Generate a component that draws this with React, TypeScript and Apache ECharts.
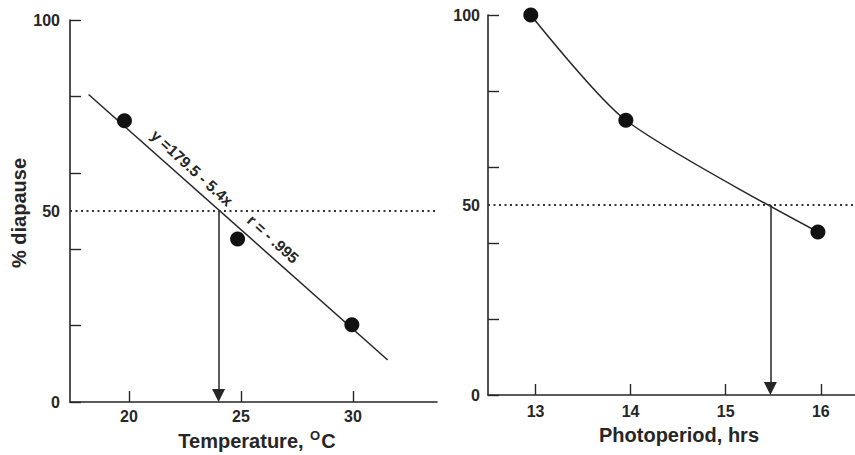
import React, { useEffect, useRef } from "react";
import * as echarts from "echarts";

// Temperature panel data
const tempC = [19.8, 24.85, 29.95];
const tempDiapause = [73.6, 42.7, 20.2];
const regressionX = [18.2, 31.55];
const regressionY = [80.5, 11.0];
const tempCritical = 24.0;
const tempTicks = [20, 25, 30];

// Photoperiod panel data
const photoHrs = [12.95, 13.95, 15.97];
const photoDiapause = [100, 72.3, 42.9];
const photoCritical = 15.47;
const photoTicks = [13, 14, 15, 16];

// Shared y-axis
const yLabelValues = [0, 50, 100];
const yTickValues = [0, 20, 40, 60, 80, 100];
const midLevel = 50;

const equationText = "y =179.5 - 5.4x";
const rText = "r = - .995";

const FONT = '"Liberation Sans", Arial, Helvetica, sans-serif';
const INK = "#262626";

function xAxisCfg(gridIndex: number, min: number, max: number, ticks: number[], margin: number) {
  return {
    type: "value",
    gridIndex,
    min,
    max,
    axisLine: { show: true, lineStyle: { color: INK, width: 1.6 } },
    axisTick: { show: true, inside: true, length: 11, customValues: ticks, lineStyle: { color: INK, width: 1.4 } },
    axisLabel: { customValues: ticks, margin, color: INK, fontSize: 16, fontWeight: "bold", fontFamily: FONT },
    splitLine: { show: false },
  };
}

function yAxisCfg(gridIndex: number, margin: number) {
  return {
    type: "value",
    gridIndex,
    min: 0,
    max: 100,
    axisLine: { show: true, lineStyle: { color: INK, width: 1.6 } },
    axisTick: { show: true, inside: true, length: 11, customValues: yTickValues, lineStyle: { color: INK, width: 1.4 } },
    axisLabel: { customValues: yLabelValues, margin, color: INK, fontSize: 16, fontWeight: "bold", fontFamily: FONT },
    splitLine: { show: false },
  };
}

function guideLines(crit: number) {
  return {
    silent: true,
    symbol: ["none", "none"],
    label: { show: false },
    emphasis: { disabled: true },
    data: [
      { yAxis: midLevel, lineStyle: { type: [2, 3.5], color: "#333", width: 2 } },
      [
        { coord: [crit, midLevel], symbol: "none", lineStyle: { type: "solid", color: INK, width: 1.5 } },
        { coord: [crit, 1.7], symbol: "triangle", symbolSize: [13, 13] },
      ],
    ],
  };
}

export default function App() {
  const ref = useRef<HTMLDivElement>(null);

  useEffect(() => {
    if (!ref.current) return;
    const chart = echarts.init(ref.current, null, { renderer: "svg" });
    const lineAngle = -0.74;
    chart.setOption({
      animation: false,
      backgroundColor: "#ffffff",
      grid: [
        { left: 70, top: 20, width: 367, height: 382 },
        { left: 488, top: 15, width: 367, height: 380 },
      ],
      xAxis: [
        xAxisCfg(0, 17.37, 33.75, tempTicks, 6),
        xAxisCfg(1, 12.5, 16.36, photoTicks, 8),
      ],
      yAxis: [yAxisCfg(0, 10), yAxisCfg(1, 8)],
      series: [
        {
          type: "line",
          xAxisIndex: 0,
          yAxisIndex: 0,
          data: regressionX.map((x, i) => [x, regressionY[i]]),
          showSymbol: false,
          silent: true,
          lineStyle: { color: INK, width: 1.5 },
        },
        {
          type: "scatter",
          xAxisIndex: 0,
          yAxisIndex: 0,
          data: tempC.map((x, i) => [x, tempDiapause[i]]),
          symbol: "circle",
          symbolSize: 15,
          itemStyle: { color: "#111", opacity: 1 },
          silent: true,
          z: 3,
          markLine: guideLines(tempCritical),
        },
        {
          type: "line",
          xAxisIndex: 1,
          yAxisIndex: 1,
          data: photoHrs.map((x, i) => [x, photoDiapause[i]]),
          smooth: 0.25,
          symbol: "circle",
          symbolSize: 15,
          showSymbol: true,
          itemStyle: { color: "#111", opacity: 1 },
          lineStyle: { color: INK, width: 1.5 },
          silent: true,
          z: 3,
          markLine: guideLines(photoCritical),
        },
      ],
      graphic: [
        {
          type: "text",
          x: 19,
          y: 213,
          rotation: Math.PI / 2,
          style: {
            text: "% diapause",
            fill: INK,
            font: `bold 20px ${FONT}`,
            align: "center",
            verticalAlign: "middle",
          },
        },
        {
          type: "text",
          x: 257,
          y: 441,
          style: {
            text: "{a|Temperature, }{s|O}{a|C}",
            fill: INK,
            align: "center",
            verticalAlign: "middle",
            rich: {
              a: { fontSize: 20, fontWeight: "bold", fontFamily: FONT, fill: INK, lineHeight: 24 },
              s: { fontSize: 13, fontWeight: "bold", fontFamily: FONT, fill: INK, verticalAlign: "top", lineHeight: 24, padding: [0, 1, 0, 1] },
            },
          },
        },
        {
          type: "text",
          x: 679,
          y: 435,
          style: {
            text: "Photoperiod, hrs",
            fill: INK,
            font: `bold 20px ${FONT}`,
            align: "center",
            verticalAlign: "middle",
          },
        },
        {
          type: "text",
          x: 192,
          y: 168,
          rotation: lineAngle,
          style: {
            text: equationText,
            fill: INK,
            font: `bold 15.5px ${FONT}`,
            align: "center",
            verticalAlign: "middle",
          },
        },
        {
          type: "text",
          x: 273,
          y: 239,
          rotation: lineAngle,
          style: {
            text: rText,
            fill: INK,
            font: `bold 15.5px ${FONT}`,
            align: "center",
            verticalAlign: "middle",
          },
        },
      ],
    });
    return () => chart.dispose();
  }, []);

  return (
    <div
      ref={ref}
      style={{ position: "absolute", left: 0, top: 0, width: 855, height: 455 }}
    />
  );
}
